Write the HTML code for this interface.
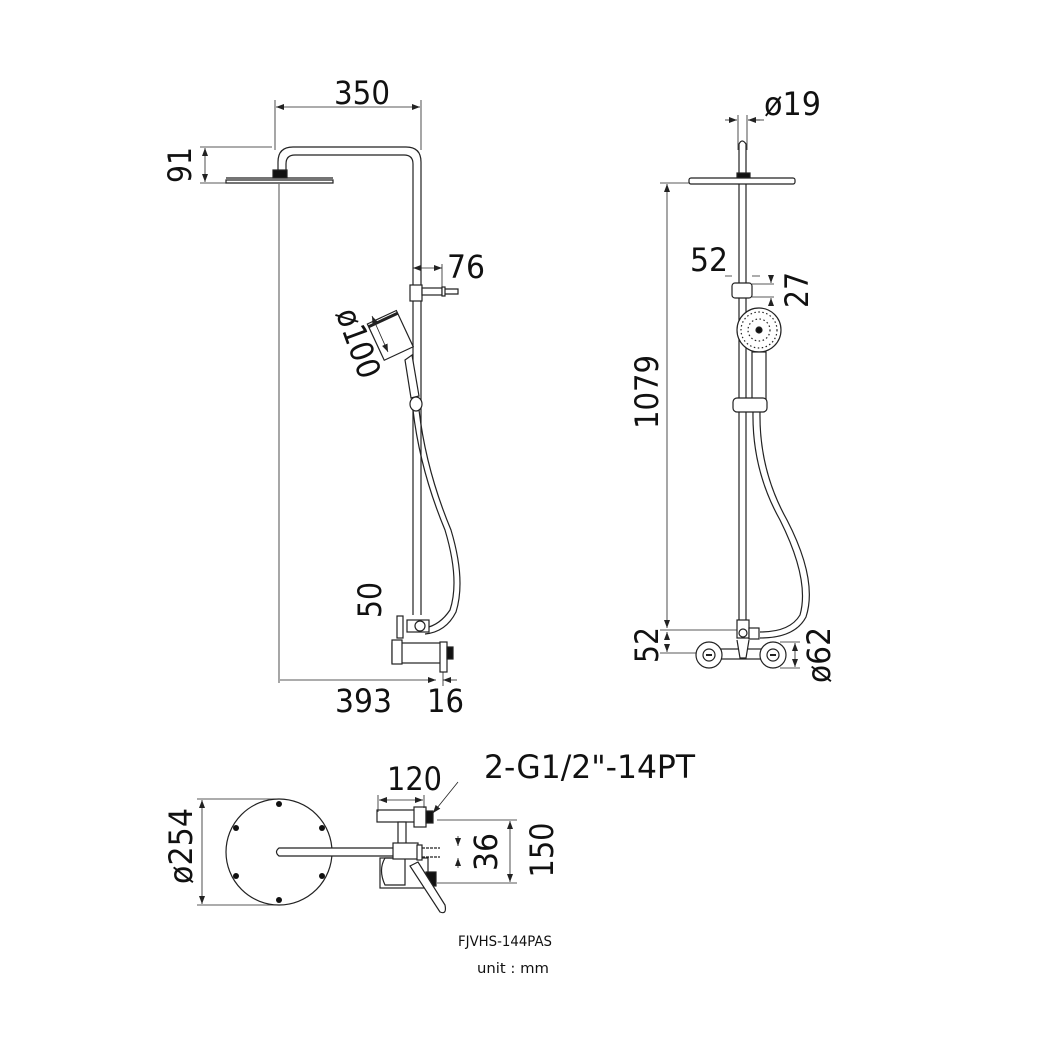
<!DOCTYPE html>
<html><head><meta charset="utf-8"><style>
html,body{margin:0;padding:0;background:#fff}
svg{display:block}
text{font-family:"DejaVu Sans","Liberation Sans",sans-serif;fill:#111}
</style></head><body>
<svg width="1040" height="1040" viewBox="0 0 1040 1040" xmlns="http://www.w3.org/2000/svg">
<defs>
<marker id="a" markerWidth="8" markerHeight="6" refX="8" refY="3" orient="auto-start-reverse" markerUnits="userSpaceOnUse"><path d="M0,0 L8,3 L0,6 z" fill="#222"/></marker>
</defs>
<g stroke="#222" fill="none" stroke-width="1.2">
<line x1="275" y1="100" x2="275" y2="150" stroke-width="0.8"/>
<line x1="421" y1="100" x2="421" y2="150" stroke-width="0.8"/>
<line x1="276" y1="107" x2="420" y2="107" stroke-width="0.8" marker-start="url(#a)" marker-end="url(#a)"/>
<line x1="200" y1="147" x2="272" y2="147" stroke-width="0.8"/>
<line x1="200" y1="183" x2="226" y2="183" stroke-width="0.8"/>
<line x1="205" y1="148" x2="205" y2="182" stroke-width="0.8" marker-start="url(#a)" marker-end="url(#a)"/>
<path d="M278,172 L278,162 Q278,147 293,147 L406,147 Q421,147 421,162 L421,615"/>
<path d="M286,172 L286,164 Q286,155 295,155 L404,155 Q413,155 413,164 L413,615"/>
<rect x="273" y="170" width="14" height="8" fill="#111"/>
<path d="M226,180 L333,180 L333,183 L226,183 Z" fill="#fff"/>
<line x1="226" y1="178" x2="333" y2="178"/>
<line x1="279" y1="184" x2="279" y2="683" stroke-width="0.8"/>
<line x1="280" y1="680" x2="436" y2="680" stroke-width="0.8" marker-end="url(#a)"/>
<line x1="443" y1="680" x2="457" y2="680" stroke-width="0.8" marker-start="url(#a)"/>
<line x1="443" y1="660" x2="443" y2="686" stroke-width="0.8"/>
<line x1="413" y1="268" x2="442" y2="268" stroke-width="0.8" marker-start="url(#a)" marker-end="url(#a)"/>
<line x1="442" y1="264" x2="442" y2="292" stroke-width="0.8"/>
<rect x="410" y="285" width="12" height="16" fill="#fff"/>
<rect x="422" y="288" width="20" height="7" fill="#fff"/>
<rect x="442" y="287" width="3" height="9" fill="#fff"/>
<path d="M445,289 L458,289 L458,294 L445,294"/>
<g transform="rotate(-25 390 330)">
<rect x="372" y="315" width="32" height="40" fill="#fff"/>
<line x1="372" y1="318" x2="404" y2="318" stroke-width="3"/>
</g>
<line x1="372" y1="316" x2="388" y2="352" stroke-width="0.8" marker-start="url(#a)" marker-end="url(#a)"/>
<path d="M405,360 L412,355 L419,396 L411,398 Z" fill="#fff"/>
<ellipse cx="416" cy="404" rx="6" ry="7" fill="#fff"/>
<path d="M413,410 Q420,470 445,530 Q460,580 450,610 Q440,625 425,628"/>
<path d="M419,410 Q426,470 451,530 Q466,580 456,612 Q446,632 425,634"/>
<rect x="407" y="620" width="22" height="12" fill="#fff"/>
<circle cx="420" cy="626" r="5" fill="#fff"/>
<rect x="397" y="616" width="6" height="22" fill="#fff"/>
<rect x="392" y="643" width="53" height="20" fill="#fff"/>
<rect x="392" y="640" width="10" height="24" fill="#fff"/>
<rect x="440" y="642" width="7" height="30" fill="#fff"/>
<rect x="447" y="647" width="6" height="12" fill="#111"/>
<line x1="738" y1="115" x2="738" y2="150" stroke-width="0.8"/>
<line x1="747" y1="115" x2="747" y2="150" stroke-width="0.8"/>
<line x1="725" y1="120" x2="737" y2="120" stroke-width="0.8" marker-end="url(#a)"/>
<line x1="760" y1="120" x2="748" y2="120" stroke-width="0.8" marker-end="url(#a)"/>
<line x1="748" y1="120" x2="764" y2="120" stroke-width="0.8"/>
<path d="M739,630 L739,144 Q742,138 746,144 L746,630"/>
<rect x="737" y="173" width="13" height="8" fill="#111"/>
<rect x="689" y="178" width="106" height="6" rx="2" fill="#fff"/>
<line x1="660" y1="183" x2="690" y2="183" stroke-width="0.8"/>
<line x1="667" y1="184" x2="667" y2="628" stroke-width="0.8" marker-start="url(#a)" marker-end="url(#a)"/>
<line x1="660" y1="630" x2="740" y2="630" stroke-width="0.8"/>
<rect x="732" y="283" width="20" height="15" rx="3" fill="#fff"/>
<path d="M725,276 L732,276 M752,276 L760,276" stroke-width="0.8"/>
<path d="M752,284 L774,284 M752,297 L774,297" stroke-width="0.8"/>
<line x1="771" y1="276" x2="771" y2="283" stroke-width="0.8" marker-end="url(#a)"/>
<line x1="771" y1="305" x2="771" y2="298" stroke-width="0.8" marker-end="url(#a)"/>
<circle cx="759" cy="330" r="22" fill="#fff"/>
<circle cx="759" cy="330" r="18" stroke-dasharray="1.5 2.5"/>
<circle cx="759" cy="330" r="11" stroke-dasharray="1.5 2.5"/>
<circle cx="759" cy="330" r="3" fill="#111"/>
<rect x="752" y="352" width="14" height="48" fill="#fff"/>
<rect x="733" y="398" width="34" height="14" rx="4" fill="#fff"/>
<path d="M753,412 Q752,470 780,520 Q810,580 800,615 Q790,632 760,632"/>
<path d="M760,412 Q759,470 787,520 Q818,580 806,617 Q795,638 760,638"/>
<rect x="737" y="620" width="12" height="18" fill="#fff"/>
<circle cx="743" cy="633" r="4" fill="#fff"/>
<rect x="749" y="628" width="10" height="11" fill="#fff"/>
<line x1="660" y1="653" x2="700" y2="653" stroke-width="0.8"/>
<line x1="667" y1="632" x2="667" y2="640" stroke-width="0.8" marker-start="url(#a)"/>
<line x1="667" y1="645" x2="667" y2="652" stroke-width="0.8" marker-end="url(#a)"/>
<rect x="712" y="649" width="58" height="10" fill="#fff"/>
<circle cx="709" cy="655" r="13" fill="#fff"/>
<circle cx="773" cy="655" r="13" fill="#fff"/>
<circle cx="709" cy="655" r="6" fill="#fff"/>
<circle cx="773" cy="655" r="6" fill="#fff"/>
<line x1="706" y1="655" x2="712" y2="655" stroke-width="2"/>
<line x1="770" y1="655" x2="776" y2="655" stroke-width="2"/>
<path d="M737,640 L740,658 L746,658 L749,640" fill="#fff"/>
<line x1="780" y1="642" x2="800" y2="642" stroke-width="0.8"/>
<line x1="780" y1="668" x2="800" y2="668" stroke-width="0.8"/>
<line x1="795" y1="643" x2="795" y2="667" stroke-width="0.8" marker-start="url(#a)" marker-end="url(#a)"/>
<circle cx="279" cy="852" r="53"/>
<g fill="#111" stroke="none">
<circle cx="279" cy="804" r="3"/><circle cx="279" cy="900" r="3"/>
<circle cx="236" cy="828" r="3"/><circle cx="322" cy="828" r="3"/>
<circle cx="236" cy="876" r="3"/><circle cx="322" cy="876" r="3"/>
</g>
<line x1="197" y1="799" x2="279" y2="799" stroke-width="0.8"/>
<line x1="197" y1="905" x2="279" y2="905" stroke-width="0.8"/>
<line x1="202" y1="800" x2="202" y2="904" stroke-width="0.8" marker-start="url(#a)" marker-end="url(#a)"/>
<path d="M279,848 L403,848 Q408,852 403,856 L279,856 Q274,852 279,848 Z" fill="#fff"/>
<rect x="377" y="810" width="40" height="12" fill="#fff"/>
<rect x="414" y="807" width="12" height="20" fill="#fff"/>
<rect x="426" y="811" width="7" height="12" fill="#111"/>
<rect x="398" y="822" width="8" height="22" fill="#fff"/>
<path d="M385,858 Q378,870 385,885 L405,885 L405,858 Z" fill="#fff"/>
<rect x="380" y="858" width="48" height="30" fill="none"/>
<rect x="393" y="843" width="25" height="16" fill="#fff"/>
<rect x="417" y="845" width="5" height="15" fill="#fff"/>
<path d="M422,848 L440,848 M422,857 L440,857" stroke-dasharray="3 1"/>
<rect x="426" y="872" width="10" height="14" fill="#111"/>
<path d="M410,866 L418,862 L445,905 Q447,915 440,912 Z" fill="#fff"/>
<line x1="378" y1="795" x2="378" y2="812" stroke-width="0.8"/>
<line x1="424" y1="795" x2="424" y2="808" stroke-width="0.8"/>
<line x1="379" y1="800" x2="423" y2="800" stroke-width="0.8" marker-start="url(#a)" marker-end="url(#a)"/>
<line x1="458" y1="782" x2="433" y2="813" stroke-width="0.8" marker-end="url(#a)"/>
<line x1="437" y1="820" x2="517" y2="820" stroke-width="0.8"/>
<line x1="437" y1="883" x2="517" y2="883" stroke-width="0.8"/>
<line x1="510" y1="821" x2="510" y2="882" stroke-width="0.8" marker-start="url(#a)" marker-end="url(#a)"/>
<line x1="458" y1="836" x2="458" y2="846" stroke-width="0.8" marker-end="url(#a)"/>
<line x1="458" y1="868" x2="458" y2="858" stroke-width="0.8" marker-end="url(#a)"/>
</g>
<g font-size="32">
<text x="334" y="104" textLength="56" lengthAdjust="spacingAndGlyphs">350</text>
<text transform="translate(191,165) rotate(-90)" text-anchor="middle" textLength="36" lengthAdjust="spacingAndGlyphs">91</text>
<text x="447" y="278" textLength="38" lengthAdjust="spacingAndGlyphs">76</text>
<text transform="translate(348,347) rotate(70)" text-anchor="middle" textLength="72" lengthAdjust="spacingAndGlyphs">ø100</text>
<text transform="translate(381,600) rotate(-90)" text-anchor="middle" textLength="36" lengthAdjust="spacingAndGlyphs">50</text>
<text x="335" y="712" textLength="57" lengthAdjust="spacingAndGlyphs">393</text>
<text x="427" y="712" textLength="37" lengthAdjust="spacingAndGlyphs">16</text>
<text x="764" y="115" textLength="57" lengthAdjust="spacingAndGlyphs">ø19</text>
<text x="690" y="271" textLength="38" lengthAdjust="spacingAndGlyphs">52</text>
<text transform="translate(808,290) rotate(-90)" text-anchor="middle" textLength="36" lengthAdjust="spacingAndGlyphs">27</text>
<text transform="translate(658,392) rotate(-90)" text-anchor="middle" textLength="74" lengthAdjust="spacingAndGlyphs">1079</text>
<text transform="translate(658,645) rotate(-90)" text-anchor="middle" textLength="36" lengthAdjust="spacingAndGlyphs">52</text>
<text transform="translate(830,655) rotate(-90)" text-anchor="middle" textLength="56" lengthAdjust="spacingAndGlyphs">ø62</text>
<text transform="translate(192,846) rotate(-90)" text-anchor="middle" textLength="76" lengthAdjust="spacingAndGlyphs">ø254</text>
<text x="387" y="790" textLength="55" lengthAdjust="spacingAndGlyphs">120</text>
<text x="484" y="778" textLength="211" lengthAdjust="spacingAndGlyphs">2-G1/2"-14PT</text>
<text transform="translate(497,852) rotate(-90)" text-anchor="middle" textLength="38" lengthAdjust="spacingAndGlyphs">36</text>
<text transform="translate(553,850) rotate(-90)" text-anchor="middle" textLength="55" lengthAdjust="spacingAndGlyphs">150</text>
</g>
<text x="505" y="946" font-size="14" text-anchor="middle" textLength="94" lengthAdjust="spacingAndGlyphs">FJVHS-144PAS</text>
<text x="513" y="973" font-size="14" text-anchor="middle" textLength="72" lengthAdjust="spacingAndGlyphs">unit : mm</text>
</svg>
</body></html>
